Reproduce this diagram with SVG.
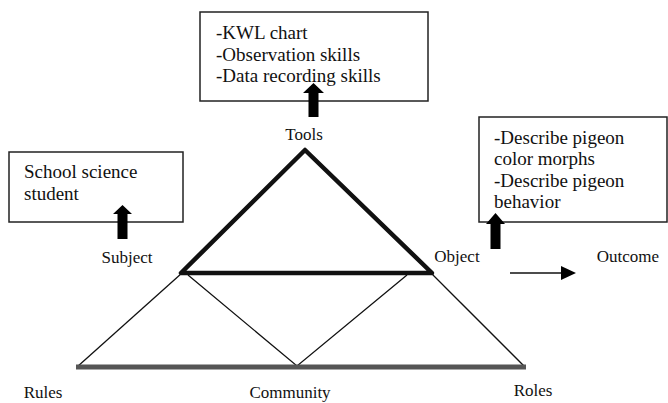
<svg xmlns="http://www.w3.org/2000/svg" width="668" height="403" viewBox="0 0 668 403">
<style>
.box{fill:#fff;stroke:#222;stroke-width:1.5}
text{font-family:'Liberation Serif','Times New Roman',Times,serif;fill:#111}
.bt{font-size:19px}
.lb{font-size:17px}
.thin{stroke:#111;stroke-width:1.3;fill:none}
.bold{stroke:#111;stroke-width:4.5;fill:none;stroke-linecap:round;stroke-linejoin:round}
.base{stroke:#555;stroke-width:5;fill:none}
.arr{fill:#000}
</style>
<rect width="668" height="403" fill="#fff"/>
<g id="connectors">
  <line class="thin" x1="77" y1="367" x2="182" y2="273"/>
  <line class="thin" x1="431" y1="273" x2="525" y2="367"/>
  <polyline class="thin" points="188,275 297,366 407,275"/>
  <polygon class="bold" points="305,150 181,273 432,273"/>
  <line class="base" x1="76" y1="367" x2="526" y2="367"/>
  <line x1="510" y1="273" x2="563" y2="273" stroke="#111" stroke-width="1.5"/>
  <polygon class="arr" points="576,273 561,266 561,280"/>
</g>
<g id="tools-box">
  <rect class="box" x="200" y="12" width="228" height="89"/>
  <text class="bt" x="216" y="39" font-family="Liberation Serif, serif">-KWL chart</text>
  <text class="bt" x="216" y="61" font-family="Liberation Serif, serif">-Observation skills</text>
  <text class="bt" x="216" y="82" font-family="Liberation Serif, serif">-Data recording skills</text>
</g>
<g id="tools-arrow">
  <polygon class="arr" points="313.5,83 324,93 318.5,93 318.5,117 308.5,117 308.5,93 303,93"/>
</g>
<g id="tools"><text class="lb" x="304" y="140" text-anchor="middle" font-family="Liberation Serif, serif">Tools</text></g>
<g id="subject-box">
  <rect class="box" x="9" y="152" width="174" height="70"/>
  <text class="bt" x="24" y="178" font-family="Liberation Serif, serif">School science</text>
  <text class="bt" x="24" y="200" font-family="Liberation Serif, serif">student</text>
</g>
<g id="subject-arrow">
  <polygon class="arr" points="122.5,205 132,214 127.5,214 127.5,239 117.5,239 117.5,214 113,214"/>
</g>
<g id="subject"><text class="lb" x="127" y="263" text-anchor="middle" font-family="Liberation Serif, serif">Subject</text></g>
<g id="object-box">
  <rect class="box" x="479" y="117" width="188" height="105"/>
  <text class="bt" x="494" y="144" font-family="Liberation Serif, serif">-Describe pigeon</text>
  <text class="bt" x="494" y="165" font-family="Liberation Serif, serif">color morphs</text>
  <text class="bt" x="494" y="187" font-family="Liberation Serif, serif">-Describe pigeon</text>
  <text class="bt" x="494" y="208" font-family="Liberation Serif, serif">behavior</text>
</g>
<g id="object-arrow">
  <polygon class="arr" points="495.5,213 505,224 500.5,224 500.5,249 490.5,249 490.5,224 486,224"/>
</g>
<g id="object"><text class="lb" x="457" y="262" text-anchor="middle" font-family="Liberation Serif, serif">Object</text></g>
<g id="outcome"><text class="lb" x="628" y="262" text-anchor="middle" font-family="Liberation Serif, serif">Outcome</text></g>
<g id="rules"><text class="lb" x="43" y="398" text-anchor="middle" font-family="Liberation Serif, serif">Rules</text></g>
<g id="community"><text class="lb" x="290" y="398" text-anchor="middle" font-family="Liberation Serif, serif">Community</text></g>
<g id="roles"><text class="lb" x="533" y="396" text-anchor="middle" font-family="Liberation Serif, serif">Roles</text></g>
</svg>
